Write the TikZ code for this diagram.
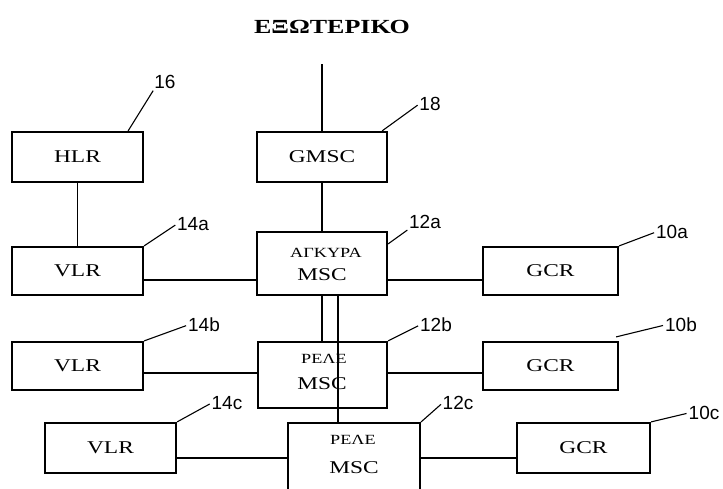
\documentclass[tikz,border=0pt]{standalone}
\usepackage{fontspec}
\setmainfont{Liberation Serif}
\newfontfamily\unitfont[FakeStretch=1.3]{Liberation Serif}
\newfontfamily\reffont{Liberation Sans}
\usetikzlibrary{calc}

\begin{document}
\begin{tikzpicture}[x=1pt, y=-1pt,
  unitbox/.style={draw, line width=2.2pt, rectangle, inner sep=0pt,
    font=\unitfont\fontsize{18}{20}\selectfont},
  unittext/.style={inner sep=0pt, font=\unitfont\fontsize{18}{20}\selectfont},
  roletext/.style={inner sep=0pt, font=\unitfont\fontsize{14}{16}\selectfont},
  reflabel/.style={inner sep=0pt, font=\reffont\fontsize{19}{21}\selectfont},
  link/.style={line width=2pt},
  thinlink/.style={line width=1.2pt},
  leader/.style={line width=1.1pt, shorten >=2pt}]
  \useasboundingbox (0,0) rectangle (723,488);

  % title and outside line
  \node[inner sep=0pt, font=\unitfont\bfseries\fontsize{20}{24}\selectfont] (title) at (332,27) {ΕΞΩΤΕΡΙΚΟ};
  \coordinate (outside) at (322,64);

  % boxes
  \node[unitbox, minimum width=131, minimum height=50] (hlr) at (77.5,157) {HLR};
  \node[unitbox, minimum width=130, minimum height=50] (gmsc) at (322,157) {GMSC};
  \node[unitbox, minimum width=131, minimum height=48] (vlra) at (77.5,271) {VLR};
  \node[unitbox, minimum width=130, minimum height=63] (msca) at (322,263.5) {};
  \node[unitbox, minimum width=135, minimum height=48] (gcra) at (550.5,271) {GCR};
  \node[unitbox, minimum width=131, minimum height=48] (vlrb) at (77.5,366) {VLR};
  \node[unitbox, minimum width=129, minimum height=66] (mscb) at (322.5,375) {};
  \node[unitbox, minimum width=135, minimum height=48] (gcrb) at (550.5,366) {GCR};
  \node[unitbox, minimum width=131, minimum height=50] (vlrc) at (110.5,448) {VLR};
  \node[unitbox, minimum width=132, minimum height=77] (mscc) at (354,461.5) {};
  \node[unitbox, minimum width=133, minimum height=50] (gcrc) at (583.5,448) {GCR};

  % texts in the MSC boxes
  \node[roletext] (msca-role) at (326,253) {ΑΓΚΥΡΑ};
  \node[unittext] (msca-name) at (322,275) {MSC};
  \node[roletext] (mscb-role) at (324,359) {ΡΕΛΕ};
  \node[unittext] (mscb-name) at (322,384) {MSC};
  \node[roletext] (mscc-role) at (353,440) {ΡΕΛΕ};
  \node[unittext] (mscc-name) at (354,468) {MSC};

  % connections
  \draw[link] (outside) -- (gmsc.north);
  \draw[link] (gmsc.south) -- (msca.north);
  \draw[thinlink] (hlr.south) -- (vlra.north);
  \draw[link] ([yshift=-9pt]vlra.east) -- ([yshift=-9pt]vlra.east -| msca.west);
  \draw[link] ([yshift=-9pt]gcra.west) -- ([yshift=-9pt]gcra.west -| msca.east);
  \draw[link] ([yshift=-7pt]vlrb.east) -- ([yshift=-7pt]vlrb.east -| mscb.west);
  \draw[link] ([yshift=-7pt]gcrb.west) -- ([yshift=-7pt]gcrb.west -| mscb.east);
  \draw[thinlink] ([yshift=-10pt]vlrc.east) -- ([yshift=-10pt]vlrc.east -| mscc.west);
  \draw[thinlink] ([yshift=-10pt]gcrc.west) -- ([yshift=-10pt]gcrc.west -| mscc.east);
  \draw[thinlink] (msca.south) -- (msca.south |- mscb.north);
  \draw[thinlink] ([xshift=16pt]msca.south) -- ([xshift=16pt]msca.south |- mscc.north);

  % reference numbers
  \node[reflabel] (r16) at (165,82) {16};
  \node[reflabel] (r18) at (430,104) {18};
  \node[reflabel] (r14a) at (193,224) {14a};
  \node[reflabel] (r12a) at (425,222) {12a};
  \node[reflabel] (r10a) at (672,232) {10a};
  \node[reflabel] (r14b) at (204,325) {14b};
  \node[reflabel] (r12b) at (436,325) {12b};
  \node[reflabel] (r10b) at (681,325) {10b};
  \node[reflabel] (r14c) at (227,403) {14c};
  \node[reflabel] (r12c) at (458,403) {12c};
  \node[reflabel] (r10c) at (704,413) {10c};

  \draw[leader] ([xshift=-16pt]hlr.north east) -- (r16.south west);
  \draw[leader] ([xshift=-6pt]gmsc.north east) -- (r18.west);
  \draw[leader] (vlra.north east) -- (r14a.west);
  \draw[leader] ([yshift=-13pt]msca.north east) -- (r12a.south west);
  \draw[leader] (gcra.north east) -- (r10a.west);
  \draw[leader] (vlrb.north east) -- (r14b.west);
  \draw[leader] (mscb.north east) -- (r12b.west);
  \draw[leader] ([shift={(-3pt,4pt)}]gcrb.north east) -- (r10b.west);
  \draw[leader] (vlrc.north east) -- (r14c.west);
  \draw[leader] (mscc.north east) -- (r12c.west);
  \draw[leader] (gcrc.north east) -- (r10c.west);
\end{tikzpicture}
\end{document}
